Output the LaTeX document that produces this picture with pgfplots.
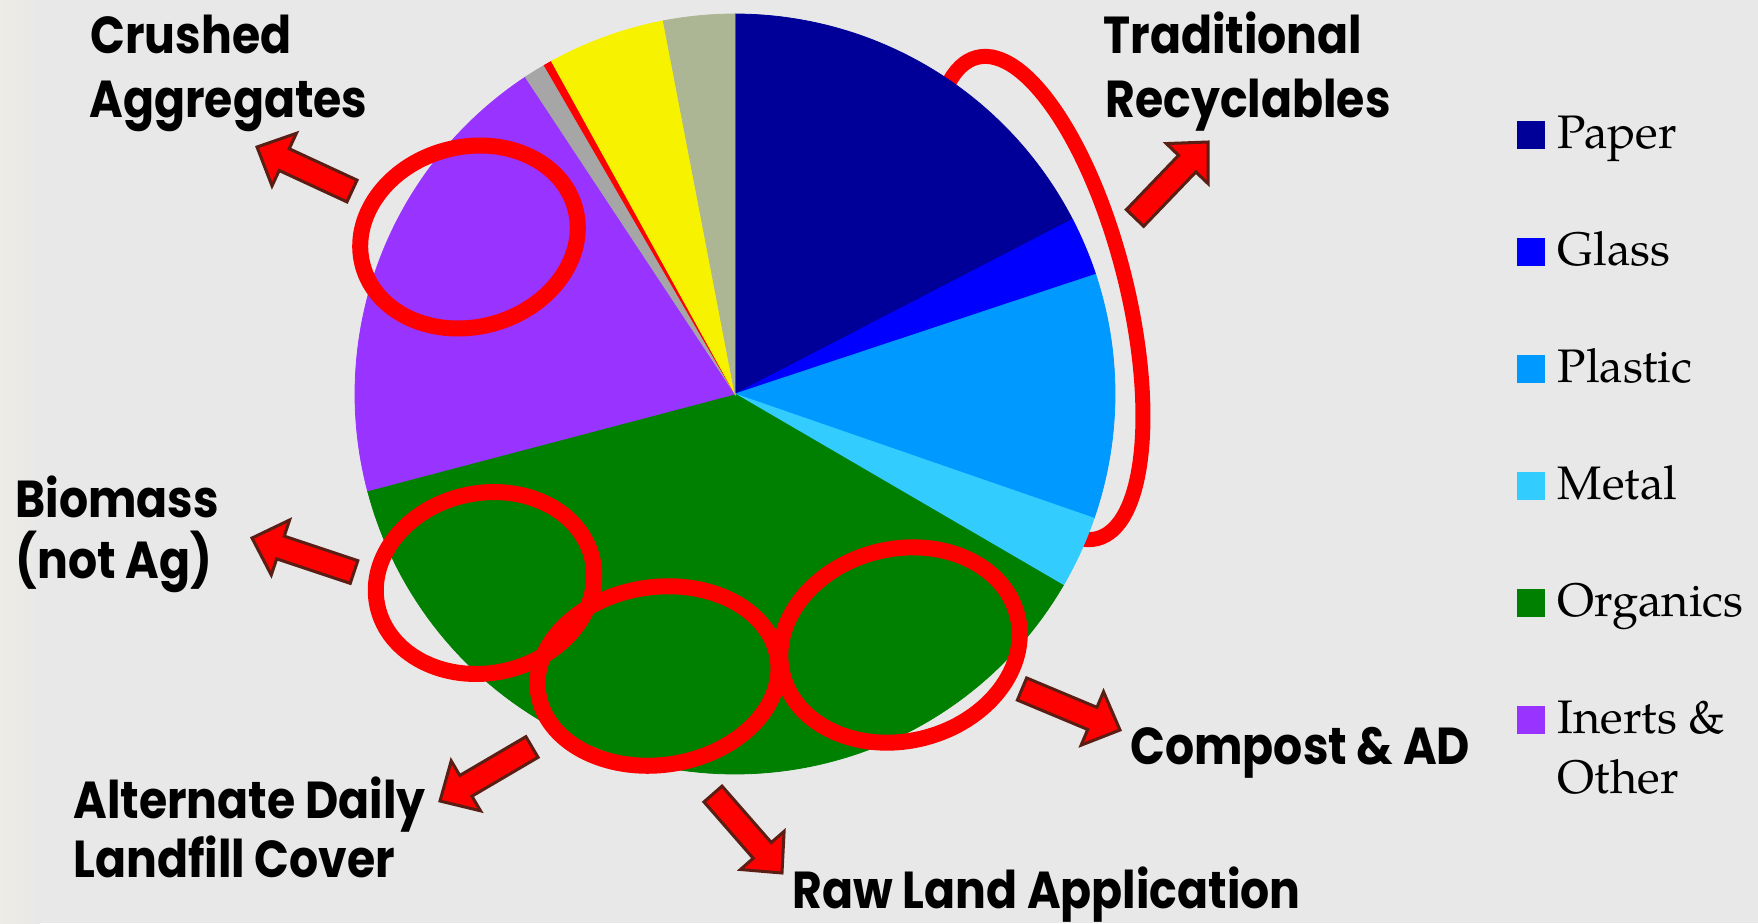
\documentclass[border=0pt]{standalone}
\usepackage{pgfplots}
\pgfplotsset{compat=1.18}
\usepackage{pgfplotstable}
\usepackage{fontspec}
\usetikzlibrary{calc}
\setmainfont{texgyrepagella-regular.otf}
\newfontfamily\labfont{Poppins}[FakeStretch=0.88, WordSpace=1.0]

\definecolor{bg}{HTML}{E8E8E8}
\definecolor{bgleft}{HTML}{EEECE4}
\definecolor{cPaper}{HTML}{000099}
\definecolor{cGlass}{HTML}{0000FF}
\definecolor{cPlastic}{HTML}{0099FF}
\definecolor{cMetal}{HTML}{33CCFF}
\definecolor{cOrganics}{HTML}{008000}
\definecolor{cInerts}{HTML}{9933FF}
\definecolor{cGray}{HTML}{A6A6A6}
\definecolor{cRed}{HTML}{FF0000}
\definecolor{cYellow}{HTML}{F7F300}
\definecolor{cOlive}{HTML}{ADB694}
\definecolor{arrowc}{HTML}{5A1E14}

% share of each slice (percent), clockwise from 12 o'clock
\pgfplotstableread{
name share col
Paper 17.4 cPaper
Glass 2.5 cGlass
Plastic 10.4 cPlastic
Metal 3.1 cMetal
Organics 37.5 cOrganics
Inerts 19.8 cInerts
Gray 0.93 cGray
Red 0.35 cRed
Yellow 5.0 cYellow
Olive 3.02 cOlive
}\piedata

\newcommand{\blockarrow}[4]{%
  \coordinate (T) at (axis cs:#1,#2);
  \coordinate (P) at (axis cs:#3,#4);
  \coordinate (H) at ($(P)!15pt!(T)$);
  \filldraw[fill=cRed, draw=arrowc, line width=1.5pt, line join=miter]
    ($(T)!6pt!90:(P)$) -- ($(H)!6pt!90:(P)$) -- ($(H)!14.5pt!90:(P)$) -- (P)
    -- ($(H)!14.5pt!-90:(P)$) -- ($(H)!6pt!-90:(P)$) -- ($(T)!6pt!-90:(P)$) -- cycle;
}
\newcommand{\lab}[3]{\node[anchor=base west, inner sep=0pt,
  font=\labfont\bfseries\fontsize{26}{30}\selectfont] at (axis cs:#1,#2) {#3};}

\begin{document}
\begin{tikzpicture}
\begin{axis}[
  scale only axis, width=879pt, height=461.5pt,
  xmin=0, xmax=1758, ymin=0, ymax=923, y dir=reverse,
  hide axis, clip=false,
  legend entries={Paper,Glass,Plastic,Metal,Organics,{\begin{tabular}[t]{@{}l@{}}Inerts \&\\Other\end{tabular}}},
  legend cell align=left,
  legend style={at={(axis cs:1516.5,114)}, anchor=north west, draw=none, fill=none,
    inner sep=0pt, row sep=35.5pt, font=\fontsize{23.5}{30}\selectfont,
    nodes={inner sep=0pt, text height=17pt, text depth=6pt}},
  legend image code/.code={\fill[#1] (0pt,-5.25pt) rectangle (13.5pt,8.25pt); \path (20pt,0pt);},
]
% background
\fill[bg] (axis cs:0,0) rectangle (axis cs:1758,923);
\shade[left color=bgleft, right color=bg] (axis cs:0,0) rectangle (axis cs:40,923);
\coordinate (bbA) at (axis cs:0,923);
\coordinate (bbB) at (axis cs:1758,0);

% ring behind the pie (traditional recyclables)
\draw[cRed, line width=7.5pt] (axis cs:1037,298) ellipse [x radius=45pt, y radius=124pt, rotate=14];

% pie slices
\def\s{0}
\pgfplotsforeachungrouped \i in {0,...,9}{%
  \pgfplotstablegetelem{\i}{share}\of\piedata
  \pgfmathsetmacro\e{\s+\pgfplotsretval}%
  \pgfplotstablegetelem{\i}{col}\of\piedata
  \let\c\pgfplotsretval
  \edef\doplot{\noexpand\addplot[fill=\c, draw=\c, line width=0.4pt, domain=\s:\e, samples=90]
    ({735+380*sin(3.6*x)},{394-380*cos(3.6*x)}) -- (axis cs:735,394) -- cycle;}%
  \doplot
  \let\s\e
}

% rings on top
\draw[cRed, line width=8pt] (axis cs:469,237) ellipse [x radius=55pt, y radius=45pt, rotate=15];
\draw[cRed, line width=8pt] (axis cs:485,583) ellipse [x radius=55pt, y radius=45pt, rotate=12];
\draw[cRed, line width=8pt] (axis cs:658,676) ellipse [x radius=60.5pt, y radius=44.5pt, rotate=8];
\draw[cRed, line width=8pt] (axis cs:900,645) ellipse [x radius=60.5pt, y radius=48pt, rotate=14];

% arrows
\blockarrow{352}{191}{257}{147}
\blockarrow{1135}{218}{1208}{142}
\blockarrow{354}{572}{252}{538}
\blockarrow{532}{747}{440}{801}
\blockarrow{713}{794}{782}{873}
\blockarrow{1022}{689}{1120}{730}

% labels
\lab{90}{53}{Crushed}
\lab{89}{117}{Aggregates}
\lab{1103}{53}{Traditional}
\lab{1105}{117}{Recyclables}
\lab{15}{517}{Biomass}
\lab{15}{578}{(not Ag)}
\lab{73}{818}{Alternate Daily}
\lab{73}{877}{Landfill Cover}
\lab{1130}{764}{Compost \& AD}
\lab{792}{908}{Raw Land Application}
\end{axis}
\pgfresetboundingbox
\path[use as bounding box] (bbA) rectangle (bbB);
\end{tikzpicture}
\end{document}
